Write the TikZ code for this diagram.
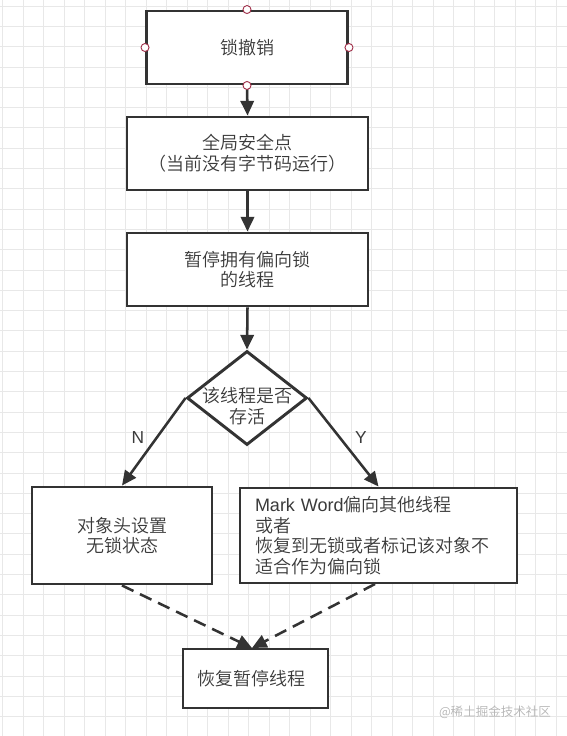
\documentclass[tikz,border=0pt]{standalone}
\usepackage{fontspec}
\setmainfont{Noto Sans CJK SC}[UprightFont={* DemiLight}]
\newfontfamily\lat{Liberation Sans}
\usetikzlibrary{arrows.meta,shapes.geometric}
\definecolor{ln}{HTML}{333333}
\definecolor{tx}{HTML}{3A3A3A}
\definecolor{gridc}{HTML}{E8E8E8}
\definecolor{cc}{HTML}{A0304A}
\definecolor{wm}{HTML}{B4B4B4}
\begin{document}
\begin{tikzpicture}[x=0.75pt,y=-0.75pt,
  box/.style={draw=ln,line width=2.2pt,fill=white,text=tx,align=center,
    font=\fontsize{13.5}{15.5}\selectfont,inner sep=0pt},
  lbl/.style={text=tx,font=\fontsize{13.5}{15.5}\selectfont,align=center,inner sep=0pt},
  arr/.style={draw=ln,line width=1.9pt,-{Triangle[length=11pt,width=10pt]}},
  darr/.style={arr,dash pattern=on 9.5pt off 5.5pt},
  port/.style={circle,draw=cc,line width=0.7pt,fill=white,minimum size=6pt,inner sep=0pt},
  yn/.style={text=tx,font=\lat\fontsize{13}{15}\selectfont,inner sep=0pt}]
\useasboundingbox (0,0) rectangle (567,736);
\fill[white] (0,0) rectangle (567,736);
\foreach \i in {0,...,27} \draw[gridc,line width=0.6pt] ({2.5+20.5*\i},0) -- ({2.5+20.5*\i},736);
\foreach \j in {0,...,36} \draw[gridc,line width=0.6pt] (0,{6+20.3*\j}) -- (567,{6+20.3*\j});

\node[box,minimum width=150.75pt,minimum height=54.75pt] (b1) at (247,47.5) {锁撤销};
\node[box,minimum width=180.75pt,minimum height=54.75pt] (b2) at (247.5,153.5) {全局安全点\\（当前没有字节码运行）};
\node[box,minimum width=180.75pt,minimum height=54.75pt] (b3) at (247.5,269.5) {暂停拥有偏向锁\\的线程};
\node[diamond,draw=ln,line width=2.2pt,fill=white,minimum width=90pt,minimum height=70.5pt,inner sep=0pt] (d) at (247,398) {};
\node[lbl] (dt) at (247,406) {该线程是否\\存活};
\node[box,minimum width=135pt,minimum height=72.75pt] (b4) at (122,535.5) {对象头设置\\无锁状态};
\node[box,minimum width=207.75pt,minimum height=71.25pt,text width=185.25pt,align=left] (b5) at (378.5,535.5) {{\lat Mark Word}偏向其他线程\\或者\\恢复到无锁或者标记该对象不\\适合作为偏向锁};
\node[box,minimum width=108.75pt,minimum height=44.25pt] (b6) at (255.5,678.5) {恢复暂停线程\hspace*{6pt}};

\node[port] (pt) at (b1.north) {};
\node[port] (pl) at (b1.west) {};
\node[port] (pr) at (b1.east) {};

\draw[arr] (b1.south) -- (b2.north);
\draw[arr] (b2.south) -- (b3.north);
\draw[arr] (b3.south) -- (d.north);
\draw[arr] (d.west) -- (b4.north);
\draw[arr] (d.east) -- (b5.north);
\coordinate (m) at (252,648);
\draw[darr] (b4.south) -- (m);
\draw[darr] (375,584) -- (m);
\node[port] (pb) at (b1.south) {};

\node[yn] (n) at (138,438) {N};
\node[yn] (y) at (361,438) {Y};
\node[text=wm,font=\fontsize{9.4}{11}\selectfont,inner sep=0pt] (w) at (495,712) {@稀土掘金技术社区};
\end{tikzpicture}
\end{document}
